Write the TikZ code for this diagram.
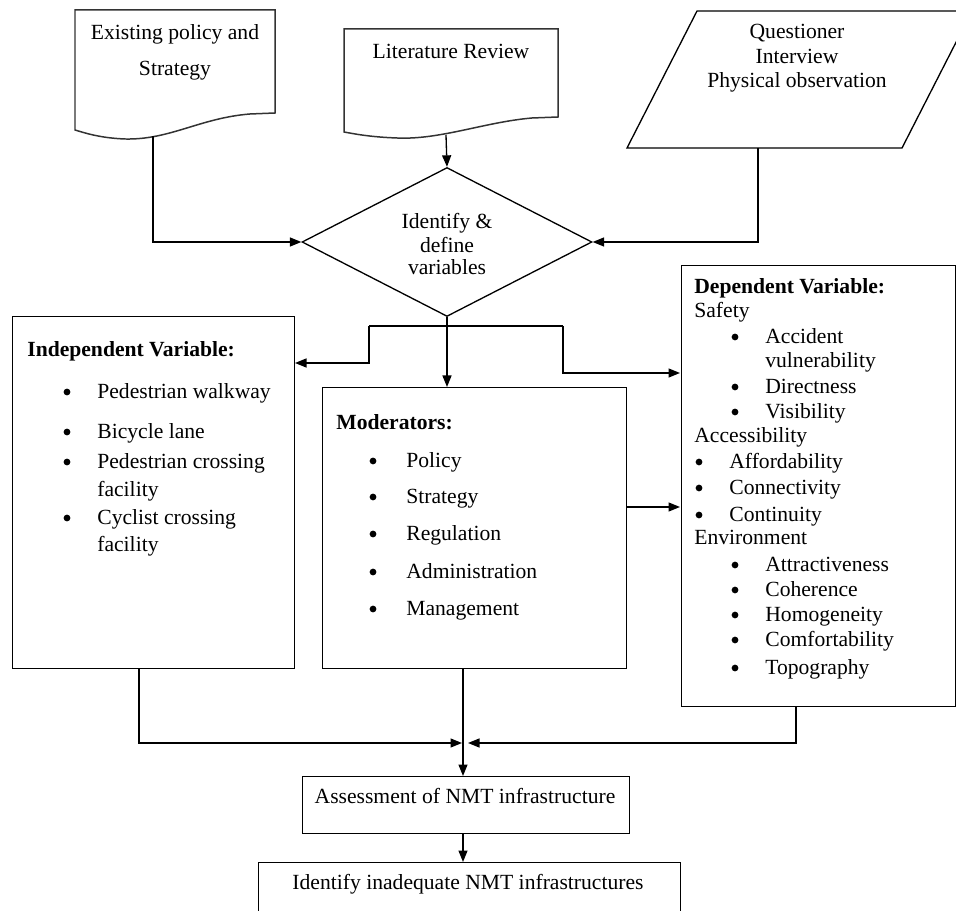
\documentclass[tikz,border=0pt]{standalone}
\usepackage{fontspec}
\setmainfont{Liberation Serif}
\usetikzlibrary{arrows.meta,shapes.geometric}
\begin{document}
\begin{tikzpicture}[x=0.02cm,y=-0.02cm,
  line/.style={draw=black,line width=0.75pt},
  docline/.style={draw=black!80,line width=0.85pt},
  arr/.style={line,-{Triangle[length=2.3mm,width=1.8mm]}},
  box/.style={draw=black,line width=0.75pt,inner sep=0pt,anchor=north west},
  txt/.style={font=\fontsize{12.3}{14}\selectfont,inner sep=0pt,anchor=mid west,yshift=-1.6pt},
  btxt/.style={txt,font=\fontsize{12.3}{14}\selectfont\bfseries},
  ctxt/.style={txt,anchor=mid},
  bul/.style={circle,fill=black,inner sep=0pt,minimum size=0.135cm}]
\useasboundingbox (0,0) rectangle (956,911);
\clip (0,0) rectangle (956,911);

% ---------- top sources ----------
\draw[docline] (75,10) -- (275,10) -- (275,113) -- (250,114)
  .. controls (200,118) and (170,140) .. (125,139)
  .. controls (100,138) and (85,133) .. (75,130) -- cycle;
\coordinate (d1b) at (153,136);
\node[ctxt] (d1t1) at (175,33) {Existing policy and};
\node[ctxt] (d1t2) at (175,69) {Strategy};

\draw[docline] (344,29) -- (558,29) -- (558,117) -- (532,118)
  .. controls (485,122) and (440,140) .. (397,138)
  .. controls (370,137) and (355,134) .. (344,132) -- cycle;
\coordinate (d2b) at (446,135);
\node[ctxt] (d2t) at (451,52) {Literature Review};

\draw[line] (697,11) -- (972,11) -- (902,148) -- (627,148) -- cycle;
\coordinate (pb) at (758,148);
\node[ctxt] (pt1) at (797,32) {Questioner};
\node[ctxt] (pt2) at (797,57) {Interview};
\node[ctxt] (pt3) at (797,81) {Physical observation};

% ---------- diamond ----------
\node[diamond,draw=black,line width=0.75pt,inner sep=0pt,
      minimum width=5.8cm,minimum height=2.98cm] (dia) at (447,242) {};
\node[ctxt] (dt1) at (447,222) {Identify \&};
\node[ctxt] (dt2) at (447,246) {define};
\node[ctxt] (dt3) at (447,268) {variables};

% ---------- boxes ----------
\node[box,minimum width=5.64cm,minimum height=7.04cm] (indep) at (12,316) {};
\node[box,minimum width=6.08cm,minimum height=5.62cm] (moder) at (322,387) {};
\node[box,minimum width=5.48cm,minimum height=8.82cm] (depend) at (681,265) {};
\node[box,minimum width=6.54cm,minimum height=1.14cm] (assess) at (302,776) {};
\node[box,minimum width=8.44cm,minimum height=1.36cm] (ident) at (258,862) {};

% Independent
\node[btxt] (it0) at (27,350) {Independent Variable:};
\foreach \y/\t [count=\i] in {392/Pedestrian walkway,432/Bicycle lane,462/Pedestrian crossing,518/Cyclist crossing}{
  \node[bul] (ib\i) at (67,\y) {};
  \node[txt] (it\i) at (97,\y) {\t};
}
\node[txt] (it5) at (97,490) {facility};
\node[txt] (it6) at (97,545) {facility};

% Moderators
\node[btxt] (mt0) at (336,423) {Moderators:};
\foreach \y/\t [count=\i] in {461/Policy,497/Strategy,534/Regulation,572/Administration,609/Management}{
  \node[bul] (mb\i) at (373,\y) {};
  \node[txt] (mt\i) at (406,\y) {\t};
}

% Dependent
\node[btxt] (dt0) at (694,287) {Dependent Variable:};
\node[txt] (ds) at (694,311) {Safety};
\foreach \y/\t [count=\i] in {337/Accident,387/Directness,412/Visibility}{
  \node[bul] (sb\i) at (735,\y) {};
  \node[txt] (st\i) at (765,\y) {\t};
}
\node[txt] (st4) at (765,361) {vulnerability};
\node[txt] (da) at (694,436) {Accessibility};
\foreach \y/\t [count=\i] in {462/Affordability,488/Connectivity,515/Continuity}{
  \node[bul] (ab\i) at (699,\y) {};
  \node[txt] (at\i) at (729,\y) {\t};
}
\node[txt] (de) at (694,538) {Environment};
\foreach \y/\t [count=\i] in {565/Attractiveness,590/Coherence,615/Homogeneity,640/Comfortability,668/Topography}{
  \node[bul] (eb\i) at (735,\y) {};
  \node[txt] (et\i) at (765,\y) {\t};
}

% bottom texts
\node[ctxt] (ast) at (465,797) {Assessment of NMT infrastructure};
\node[ctxt] (idt) at (468,883) {Identify inadequate NMT infrastructures};

% ---------- connectors ----------
\draw[arr] (d1b) |- (dia.west);
\draw[arr] (d2b) -- (dia.north);
\draw[arr] (pb) |- (dia.east);
\draw[arr] (dia.south) -- (dia.south |- moder.north);

\coordinate (b1) at (369,326);
\coordinate (b2) at (563,326);
\coordinate (ia) at (295,363);
\coordinate (da1) at (680,373);
\draw[line] (b1) -- (b2);
\draw[arr] (b1) |- (ia);
\draw[arr] (b2) |- (da1);

\coordinate (me) at (626,507);
\coordinate (de1) at (680,507);
\draw[arr] (me) -- (de1);

\coordinate (ib) at (139,668);
\coordinate (dbm) at (796,706);
\coordinate (jl) at (462,743);
\coordinate (jr) at (468,743);
\draw[arr] (ib) |- (jl);
\draw[arr] (dbm) |- (jr);
\coordinate (mb) at (463,668);
\draw[arr] (mb) -- (mb |- assess.north);
\coordinate (ab) at (463,833);
\draw[arr] (ab) -- (ab |- ident.north);
\end{tikzpicture}
\end{document}
